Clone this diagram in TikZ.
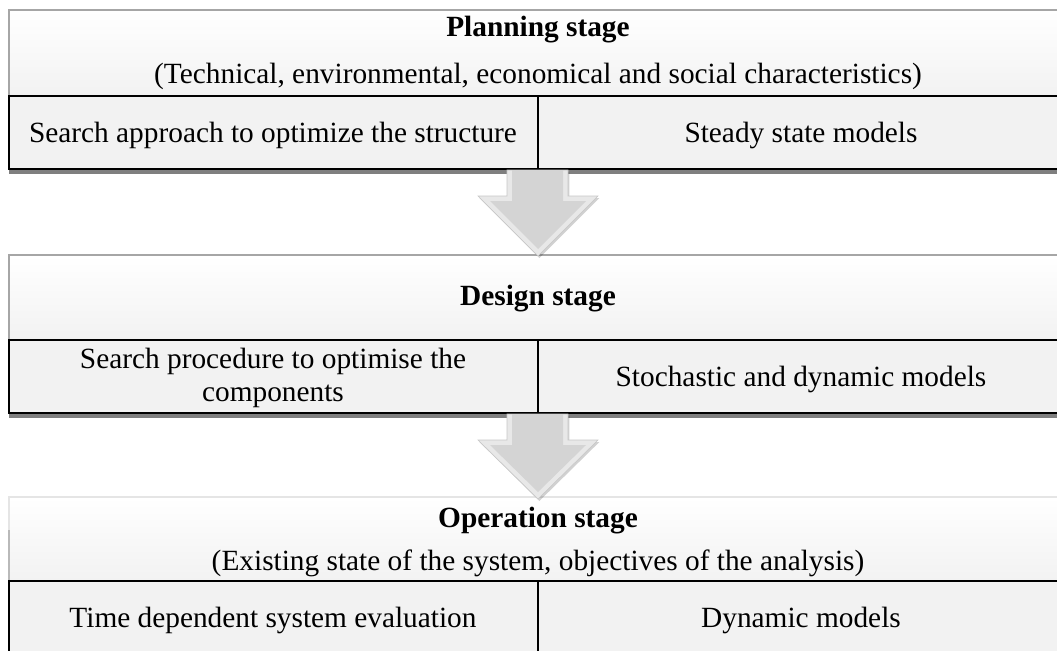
\documentclass[tikz,border=0pt]{standalone}
\usepackage{fontspec}
\setmainfont{Liberation Serif}
\usetikzlibrary{shadows}
\definecolor{cellgray}{HTML}{F2F2F2}
\definecolor{hdrline}{HTML}{A6A6A6}
\definecolor{arrowfill}{HTML}{D4D4D4}
\definecolor{arrowedge}{HTML}{E8E8E8}
\begin{document}
\begin{tikzpicture}[x=0.75pt,y=-0.75pt,
  hdrbox/.style={draw=hdrline, line width=1.3pt, top color=white, middle color=white, bottom color=cellgray},
  rowbox/.style={draw=black, line width=1.3pt, fill=cellgray,
    drop shadow={shadow xshift=0pt, shadow yshift=-3.5pt, opacity=0.5, fill=black}},
  divider/.style={draw=black, line width=1.3pt},
  txt/.style={font=\fontsize{22}{24.75}\selectfont, align=center, inner sep=0pt},
  ttl/.style={font=\fontsize{22}{24.75}\selectfont\bfseries, inner sep=0pt},
  blockarrow/.style={fill=arrowedge, draw=gray!45, line width=0.4pt,
    drop shadow={shadow xshift=1pt, shadow yshift=-1.5pt, opacity=0.18, fill=black}},
  arrowcore/.style={fill=arrowfill, draw=none}]
\useasboundingbox (0,0) rectangle (1057,650);
\clip (0,0) rectangle (1057,650);

% ---- planning stage ----
\path[hdrbox] (9,10) rectangle (1065,96);
\path[rowbox] (9,96) rectangle (1065,169);
\draw[divider] (538,96) -- (538,169);
\node[ttl, anchor=base] (plan) at (538,36) {Planning stage};
\node[txt, anchor=base] (plansub) at (538,83) {(Technical, environmental, economical and social characteristics)};
\node[txt, anchor=base] (planL) at (273,142) {Search approach to optimize the structure};
\node[txt, anchor=base] (planR) at (801,142) {Steady state models};

% ---- design stage ----
\path[hdrbox] (9,255) rectangle (1065,340);
\path[rowbox] (9,340) rectangle (1065,413);
\draw[divider] (538,340) -- (538,413);
\node[ttl, anchor=base] (design) at (538,305) {Design stage};
\node[txt] (designL) at (273,377.5) {Search procedure to optimise the\\components};
\node[txt, anchor=base] (designR) at (801,386) {Stochastic and dynamic models};

% ---- operation stage ----
\path[hdrbox, draw=gray!20] (9,497) rectangle (1065,581);
\draw[gray!55, line width=1.3pt] (9,530) -- (9,581);
\path[rowbox] (9,581) rectangle (1065,665);
\draw[divider] (538,581) -- (538,665);
\node[ttl, anchor=base] (oper) at (538,527) {Operation stage};
\node[txt, anchor=base] (opersub) at (538,570) {(Existing state of the system, objectives of the analysis)};
\node[txt, anchor=base] (operL) at (273,627) {Time dependent system evaluation};
\node[txt, anchor=base] (operR) at (801,627) {Dynamic models};

% ---- block arrows between the stages ----
\path[blockarrow] (507,170) -- (568,170) -- (568,196) -- (598,196) -- (538,256)
  -- (478,196) -- (507,196) -- cycle;
\path[arrowcore] (512,170) -- (563,170) -- (563,201) -- (586,201) -- (538,249)
  -- (490,201) -- (512,201) -- cycle;

\path[blockarrow] (507,414) -- (568,414) -- (568,440) -- (598,440) -- (538,499)
  -- (478,440) -- (507,440) -- cycle;
\path[arrowcore] (512,414) -- (563,414) -- (563,445) -- (586,445) -- (538,492)
  -- (490,445) -- (512,445) -- cycle;
\end{tikzpicture}
\end{document}
